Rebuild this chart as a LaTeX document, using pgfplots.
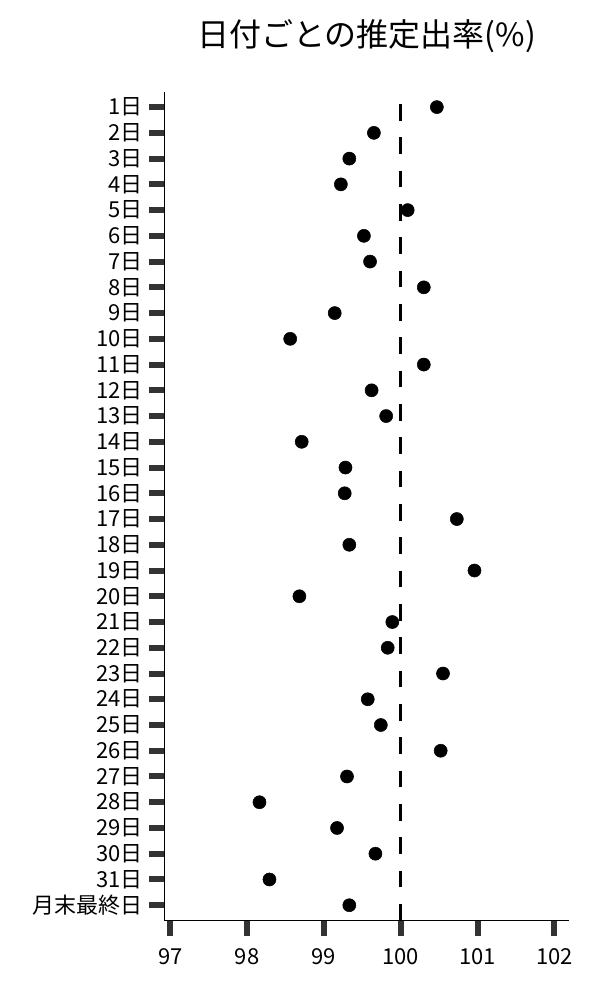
\documentclass[border=0pt]{standalone}
\usepackage{fontspec}
\setmainfont{Noto Sans CJK JP}
\usepackage{pgfplots}
\pgfplotsset{compat=1.18}

\pgfplotstableread{
x y
100.47 31
99.65 30
99.33 29
99.22 28
100.09 27
99.52 26
99.60 25
100.30 24
99.14 23
98.56 22
100.30 21
99.62 20
99.81 19
98.71 18
99.28 17
99.27 16
100.73 15
99.33 14
100.96 13
98.68 12
99.89 11
99.83 10
100.55 9
99.57 8
99.74 7
100.52 6
99.30 5
98.16 4
99.17 3
99.67 2
98.29 1
99.33 0
}\rates

\begin{document}
\begin{tikzpicture}
\path[use as bounding box] (-123.2pt,-59.5pt) rectangle (326.8pt,690.5pt);
\begin{axis}[
    scale only axis,
    width=303.5pt, height=621.75pt,
    xmin=96.92, xmax=102.19,
    ymin=-0.6, ymax=31.6,
    axis x line*=bottom,
    axis y line*=left,
    axis line style={line width=1pt, black},
    xtick={97,98,99,100,101,102},
    ytick={0,1,...,31},
    yticklabels={月末最終日,31日,30日,29日,28日,27日,26日,25日,24日,23日,22日,21日,20日,19日,18日,17日,16日,15日,14日,13日,12日,11日,10日,9日,8日,7日,6日,5日,4日,3日,2日,1日},
    tick align=outside,
    major tick length=11.25pt,
    tick style={line width=4.5pt, color=black!80},
    ticklabel style={font=\fontsize{16.5}{19}\selectfont},
    xticklabel style={yshift=-6pt},
    yticklabel style={xshift=-1.5pt},
    /pgf/number format/assume math mode=true,
    title={日付ごとの推定出率(\%)},
    title style={font=\fontsize{24}{28}\selectfont, at={(0.5,1)}, anchor=center, yshift=35.8pt},
    clip=false,
]
\addplot[black, line width=2pt, dash pattern=on 12.5pt off 12.5pt] coordinates {(100,-0.6) (100,31.6)};
\addplot[only marks, mark=*, mark size=4.9pt, black] table[x=x, y=y] {\rates};
\end{axis}
\end{tikzpicture}
\end{document}
